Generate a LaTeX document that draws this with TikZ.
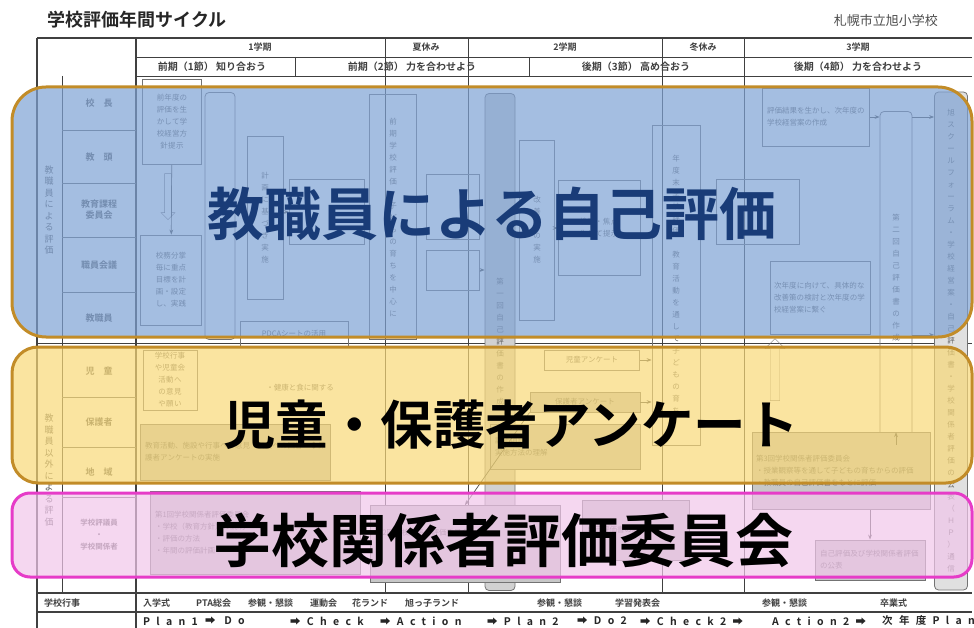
\documentclass[tikz,border=0pt]{standalone}
\usepackage{fontspec}
\setmainfont{Noto Sans CJK JP}
\newfontfamily\cjk[BoldFont={Noto Sans CJK JP Bold}]{Noto Sans CJK JP}
\XeTeXlinebreaklocale "ja"
\XeTeXlinebreakskip=0pt plus 1pt
\usetikzlibrary{arrows.meta,positioning,shapes.arrows}

\definecolor{bandblue}{RGB}{126,162,212}
\definecolor{bandyellow}{RGB}{248,216,119}
\definecolor{bandpink}{RGB}{241,198,234}
\definecolor{bandgold}{RGB}{194,140,40}
\definecolor{bandmagenta}{RGB}{230,60,200}
\definecolor{navytext}{RGB}{25,60,120}

\begin{document}
\begin{tikzpicture}[
    x=1pt, y=-1pt,
    rule/.style={draw=black!75, line width=0.9pt},
    thinrule/.style={draw=black!60, line width=0.6pt},
    head/.style={font=\cjk\bfseries\fontsize{9}{10}\selectfont, text=black!75, inner sep=0pt},
    label/.style={font=\cjk\bfseries\fontsize{9}{11}\selectfont, text=black!65, align=center, inner sep=0pt},
    box/.style={draw=black!55, line width=0.8pt, inner sep=2pt, align=center,
                font=\cjk\fontsize{7.5}{12}\selectfont, text=black!60},
    tallbox/.style={box, rounded corners=4pt},
    greybox/.style={box, fill=black!22},
    hollow/.style={single arrow, draw=black!55, inner sep=2.5pt, single arrow head extend=3pt},
    link/.style={draw=black!70, line width=0.7pt, -{Stealth[length=5pt]}},
    pdca/.style={anchor=west, inner sep=0pt, text=black!85,
                 font=\cjk\bfseries\fontsize{10.5}{11}\selectfont\addfontfeature{LetterSpace=60}},
    band/.style={rounded corners=34pt, line width=3pt, fill opacity=0.7},
    bigtext/.style={font=\cjk\bfseries\fontsize{#1}{#1}\selectfont, inner sep=0pt}
]
\useasboundingbox (0,0) rectangle (974,628);

    % Title
    \node (title) [anchor=west, font=\cjk\bfseries\fontsize{18}{18}\selectfont, text=black!85] at (44,20) {学校評価年間サイクル};
    \node (school) [anchor=east, font=\cjk\fontsize{13}{13}\selectfont, text=black!70, inner sep=0pt] at (938,21) {札幌市立旭小学校};

    % Table frame
    \draw [rule, line width=1.4pt] (37,38) -- (972,38);
    \draw [rule] (136,57) -- (972,57);
    \draw [rule] (136,76) -- (972,76);
    \draw [rule] (37,343) -- (972,343);
    \draw [rule, line width=1.4pt] (37,593) -- (972,593);
    \draw [rule, line width=1.2pt] (37,612) -- (972,612);
    \foreach \x in {37,136} {
        \draw [rule, line width=1.2pt] (\x,38) -- (\x,628);
    }
    \foreach \x in {385,468,662,744} {
        \draw [rule] (\x,38) -- (\x,593);
    }
    \foreach \x in {295,529} {
        \draw [rule] (\x,57) -- (\x,76);
    }
    \draw [rule] (62,76) -- (62,593);
    \foreach \y in {130,183,237,292,397,447,497} {
        \draw [thinrule] (62,\y) -- (136,\y);
    }

    % Header
    \node (term1) [head] at (260,47) {1学期};
    \node (summer) [head] at (426,47) {夏休み};
    \node (term2) [head] at (565,47) {2学期};
    \node (winter) [head] at (703,47) {冬休み};
    \node (term3) [head] at (858,47) {3学期};
    \node (part1) [head, font=\cjk\bfseries\fontsize{10}{10}\selectfont] at (212,67) {前期（1節）\ 知り合おう};
    \node (part2) [head, font=\cjk\bfseries\fontsize{10}{10}\selectfont] at (412,67) {前期（2節）\ 力を合わせよう};
    \node (part3) [head, font=\cjk\bfseries\fontsize{10}{10}\selectfont] at (636,67) {後期（3節）\ 高め合おう};
    \node (part4) [head, font=\cjk\bfseries\fontsize{10}{10}\selectfont] at (858,67) {後期（4節）\ 力を合わせよう};

    % Row labels
    \node (staffeval) [label, font=\cjk\fontsize{9}{11.5}\selectfont] at (49,210) {教\\職\\員\\に\\よ\\る\\評\\価};
    \node (othereval) [label, font=\cjk\fontsize{9}{11.5}\selectfont] at (49,470) {教\\職\\員\\以\\外\\に\\よ\\る\\評\\価};
    \node (principal) [label] at (99,103) {校　長};
    \node (vice) [label] at (99,157) {教　頭};
    \node (curriculum) [label] at (99,210) {教育課程\\委員会};
    \node (meeting) [label] at (99,265) {職員会議};
    \node (staff) [label] at (99,318) {教職員};
    \node (pupils) [label] at (99,371) {児　童};
    \node (parents) [label] at (99,422) {保護者};
    \node (region) [label] at (99,472) {地　域};
    \node (councillors) [label, font=\cjk\bfseries\fontsize{7.5}{12}\selectfont] at (99,535) {学校評議員\\・\\学校関係者};

    % Staff boxes
    \node (policy) [box, minimum width=59pt, minimum height=85pt, text width=32pt] at (172,122) {前年度の評価を生かして学校経営方針提示};
    \node (down) [hollow, rotate=-90, minimum height=46pt, minimum width=14pt] at (168,195) {};
    \node (goals) [box, minimum width=61pt, minimum height=90pt, text width=32pt] at (171,280) {校務分掌毎に重点目標を計画・設定し、実践};
    \node (cycle) [tallbox, minimum width=30pt, minimum height=247pt] at (220,216) {};
    \node (practice) [box, minimum width=36pt, minimum height=163pt, text width=9pt] at (265,218) {計\\画\\に\\基\\づ\\き\\実\\施};
    \node (items) [box, minimum width=75pt, minimum height=65pt] at (327,212) {};
    \node (pdca) [box, minimum width=108pt, minimum height=26pt] at (294,334) {PDCAシートの活用};
    \node (firsteval) [box, minimum width=47pt, minimum height=245pt, text width=9pt] at (393,217) {前\\期\\学\\校\\評\\価\\　\\子\\ど\\も\\の\\育\\ち\\を\\中\\心\\に};
    \node (mid1) [box, minimum width=53pt, minimum height=65pt] at (453,207) {};
    \node (mid2) [box, minimum width=53pt, minimum height=40pt] at (453,270) {};
    \node (selfone) [tallbox, fill=black!18, minimum width=30pt, minimum height=497pt, text width=9pt] at (500,342) {第\\一\\回\\自\\己\\評\\価\\書\\の\\作\\成};
    \node (improve) [box, minimum width=35pt, minimum height=180pt, text width=9pt] at (537,230) {改\\善\\策\\の\\実\\施};
    \node (review) [box, minimum width=82pt, minimum height=95pt, text width=50pt] at (599,228) {検討・焦点化して提示};
    \node (yearend) [box, minimum width=48pt, minimum height=320pt, text width=9pt] at (676,285) {年\\度\\末\\学\\校\\評\\価\\　\\教\\育\\活\\動\\を\\通\\し\\て\\子\\ど\\も\\の\\育\\ち};
    \node (nextplan) [box, minimum width=107pt, minimum height=58pt, text width=98pt, align=left] at (816,117) {評価結果を生かし、次年度の学校経営案の作成};
    \node (check) [box, minimum width=83pt, minimum height=65pt] at (758,212) {};
    \node (connect) [box, minimum width=100pt, minimum height=73pt, text width=92pt, align=left] at (820,298) {次年度に向けて、具体的な改善策の検討と次年度の学校経営案に繋ぐ};
    \node (selftwo) [tallbox, minimum width=32pt, minimum height=333pt, text width=9pt] at (896,278) {第\\二\\回\\自\\己\\評\\価\\書\\の\\作\\成};
    \node (forum) [tallbox, fill=black!12, minimum width=33pt, minimum height=498pt, text width=9pt] at (951,341) {旭\\ス\\ク\\ー\\ル\\フ\\ォ\\ー\\ラ\\ム\\・\\学\\校\\経\\営\\案\\・\\自\\己\\評\\価\\書\\・\\学\\校\\関\\係\\者\\評\\価\\の\\公\\表\\（\\Ｈ\\Ｐ\\）\\通\\信};

    % Pupil and parent boxes
    \node (events) [box, minimum width=54pt, minimum height=60pt, text width=34pt] at (170,380) {学校行事や児童会活動への意見や願い};
    \node (health) [font=\cjk\fontsize{7.5}{9}\selectfont, text=black!60] at (300,388) {・健康と食に関する};
    \node (opinion) [greybox, minimum width=190pt, minimum height=56pt, text width=180pt, align=left] at (235,452) {教育活動、施設や行事への意見・要望への回答　◆保護者アンケートの実施};
    \node (pupilsurvey) [box, minimum width=95pt, minimum height=20pt] at (592,360) {児童アンケート};
    \node (parentsurvey) [greybox, minimum width=110pt, minimum height=20pt] at (585,402) {保護者アンケート};
    \node (method) [greybox, minimum width=150pt, minimum height=45pt, text width=140pt, align=left] at (565,447) {評価項目\\実施方法の理解};
    \node (up) [hollow, rotate=90, minimum height=62pt, minimum width=20pt] at (775,372) {};
    \node (third) [greybox, minimum width=178pt, minimum height=77pt, text width=170pt, align=left] at (841,471) {第3回学校関係者評価委員会\\・授業観察等を通して子どもの育ちからの評価\\・教職員の自己評価書をもとに評価};

    % Committee boxes
    \node (first) [greybox, minimum width=210pt, minimum height=83pt, text width=200pt, align=left] at (255,533) {第1回学校関係者評価委員会\\・学校（教育方針）の説明\\・評価の方法\\・年間の評価計画};
    \node (second) [greybox, minimum width=190pt, minimum height=77pt, text width=180pt, align=left] at (465,544) {第2回学校関係者評価委員会\\・\\・};
    \node (selfreport) [greybox, minimum width=107pt, minimum height=60pt, text width=98pt, align=left] at (636,530) {自己評価書の説明};
    \node (publish) [greybox, minimum width=110pt, minimum height=40pt, text width=100pt, align=left] at (870,560) {自己評価及び学校関係者評価の公表};

    % Connectors
    \draw [link] (policy) -- (goals);
    \draw [link] (practice.east |- items.west) -- (items);
    \draw [link] (mid2.east) -- (selfone.west |- mid2.east);
    \draw [link] (improve.east |- review.west) -- (review);
    \draw [link] (pupilsurvey.east) -- (yearend.west |- pupilsurvey.east);
    \draw [link] (parentsurvey.east) -- (yearend.west |- parentsurvey.east);
    \draw [link] (nextplan.east) -- (selftwo.west |- nextplan.east);
    \draw [link] (selftwo.east |- nextplan.east) -- (forum.west |- nextplan.east);
    \draw [link] (selftwo.east |- connect.south) -- (forum.west |- connect.south);
    \draw [link] (selftwo.south) -- (third.north -| selftwo.south);
    \draw [link] (third.south -| publish.north) -- (publish.north);
    \draw [link] (parentsurvey.south west) -- (second.north);

    % School events row
    \node (eventslabel) [head, anchor=west] at (44,603) {学校行事};
    \node (entrance) [head, anchor=west] at (143,603) {入学式};
    \node (ptameet) [head, anchor=west] at (196,603) {PTA総会};
    \node (visitone) [head, anchor=west] at (248,603) {参観・懇談};
    \node (sports) [head, anchor=west] at (310,603) {運動会};
    \node (flower) [head, anchor=west] at (352,603) {花ランド};
    \node (asahi) [head, anchor=west] at (405,603) {旭っ子ランド};
    \node (visittwo) [head, anchor=west] at (537,603) {参観・懇談};
    \node (recital) [head, anchor=west] at (615,603) {学習発表会};
    \node (visitthree) [head, anchor=west] at (762,603) {参観・懇談};
    \node (graduation) [head, anchor=west] at (880,603) {卒業式};

    % PDCA row
    \node (planone) [pdca] at (143,621) {Plan1};
    \node (doone) [pdca] at (205,621) {➡ Do};
    \node (checkone) [pdca] at (290,621) {➡Check};
    \node (actone) [pdca] at (380,621) {➡Action};
    \node (plantwo) [pdca] at (487,621) {➡Plan2};
    \node (dotwo) [pdca] at (577,621) {➡Do2};
    \node (checktwo) [pdca] at (640,621) {➡Check2➡};
    \node (acttwo) [pdca] at (772,621) {Action2➡};
    \node (nextyear) [pdca] at (882,621) {次年度Plan};

    % Overlay bands
    \draw [band, draw=bandgold, fill=bandblue] (12,87) rectangle (972,337);
    \draw [band, draw=bandgold, fill=bandyellow, rounded corners=26pt] (12,347) rectangle (972,483);
    \draw [band, draw=bandmagenta, fill=bandpink, rounded corners=18pt] (12,493) rectangle (972,577);

    % Band captions
    \node (staffcap) [bigtext=57, text=navytext] at (492,214) {教職員による自己評価};
    \node (surveycap) [bigtext=52.5] at (511,425) {児童・保護者アンケート};
    \node (committeecap) [bigtext=58] at (503,540) {学校関係者評価委員会};

\end{tikzpicture}
\end{document}
